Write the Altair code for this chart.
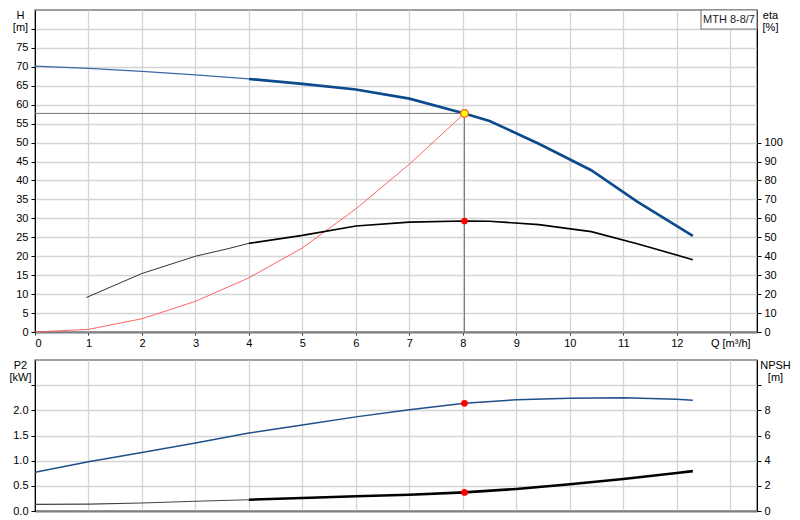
import altair as alt
import pandas as pd

# ---------------- data ----------------
# Pump curve H [m]
h_q = [0, 1, 2, 3, 4, 5, 6, 7, 8.03, 8.5, 9.42, 10.4, 11.26, 12.3]
h_v = [70.2, 69.6, 68.8, 67.9, 66.8, 65.5, 64.0, 61.6, 57.7, 55.7, 49.7, 42.7, 34.4, 25.4]
# System curve (red)
sys_q = [0, 1, 2, 3, 4, 5, 6, 7, 8.03]
sys_v = [0, 0.7, 3.5, 8.1, 14.3, 22.2, 32.5, 44.3, 57.7]
# Efficiency eta [%]
eta_q = [0.96, 2, 3, 3.61, 4, 5, 6, 7, 8.03, 8.5, 9.42, 10.4, 11.26, 12.3]
eta_v = [18.2, 30.9, 40.0, 44.0, 46.8, 51.0, 56.0, 58.0, 58.6, 58.5, 56.7, 53.0, 46.6, 38.2]
# Power P2 [kW]
p2_q = [0, 1, 2, 3, 4, 5, 6, 7, 8.03, 9, 10, 11, 12, 12.3]
p2_v = [0.77, 0.98, 1.16, 1.35, 1.55, 1.71, 1.87, 2.01, 2.14, 2.21, 2.24, 2.25, 2.22, 2.20]
# NPSH [m]
npsh_q = [0, 1, 2, 3, 4, 5, 6, 7, 8.03, 9, 10, 11, 12, 12.3]
npsh_v = [0.53, 0.55, 0.63, 0.77, 0.90, 1.03, 1.17, 1.29, 1.48, 1.75, 2.12, 2.54, 3.02, 3.17]
# Duty point
duty_q = 8.03
duty_h = 57.7
duty_eta = 58.6
duty_p2 = 2.14
duty_npsh = 1.48
split_q = 4  # where curves change from thin to thick

x_ticks = list(range(14))
h_ticks = list(range(0, 85, 5))
eta_ticks = list(range(0, 110, 10))
p2_ticks = [0, 0.5, 1.0, 1.5, 2.0, 2.5]
npsh_ticks = [0, 2, 4, 6, 8, 10]

model_label = "MTH 8-8/7"

# ---------------- layout ----------------
FONT = "Liberation Sans"
W, H1, H2 = 722, 322, 151
BLUE = "#0b4a8c"
GRID = "#d4d4d4"


def df(q, v):
    return pd.DataFrame({"Q": q, "v": v})


def seg(q, v, lo, hi):
    pts = [(a, b) for a, b in zip(q, v) if lo <= a <= hi]
    return df([p[0] for p in pts], [p[1] for p in pts])


xs = alt.Scale(domain=[0, 13.5], nice=False, zero=False)

ax_x_top = alt.Axis(values=x_ticks, title=None, grid=True,
                    labelExpr="datum.value == 13 ? 'Q [m³/h]' : datum.label",
                    tickSize=3, labelPadding=2, domainColor="#808080",
                    domainWidth=2, tickColor="#333")
ax_x_bot = alt.Axis(values=x_ticks, title=None, grid=True, labels=False,
                    ticks=False, domainColor="#808080", domainWidth=2)


def xt(f="Q"):
    return alt.X(f, type="quantitative", scale=xs, axis=ax_x_top)


def xb(f="Q"):
    return alt.X(f, type="quantitative", scale=xs, axis=ax_x_bot)


ax_h = alt.Axis(values=h_ticks, grid=True, title=["H", "[m]"],
                labelExpr="datum.value > 75 ? '' : datum.label",
                titleAngle=0, titleAlign="center", titleBaseline="top",
                titleX=-15, titleY=-1, titleLineHeight=12,
                tickSize=4, labelPadding=3, domainColor="#000", orient="left")
ax_eta = alt.Axis(values=eta_ticks, grid=False, title=["eta", "[%]"],
                  titleAngle=0, titleAlign="center", titleBaseline="top",
                  titleX=13, titleY=-1, titleLineHeight=12,
                  tickSize=4, labelPadding=3, domainColor="#000", orient="right")
ax_p2 = alt.Axis(values=p2_ticks, grid=True, title=["P2", "[kW]"], format=".1f",
                 labelExpr="datum.value > 2.01 ? '' : datum.label",
                 titleAngle=0, titleAlign="center", titleBaseline="top",
                 titleX=-15, titleY=-1, titleLineHeight=12,
                 tickSize=4, labelPadding=3, domainColor="#000", orient="left")
ax_npsh = alt.Axis(values=npsh_ticks, grid=False, title=["NPSH", "[m]"],
                   labelExpr="datum.value > 8 ? '' : datum.label",
                   titleAngle=0, titleAlign="center", titleBaseline="top",
                   titleX=18, titleY=-1, titleLineHeight=12,
                   tickSize=4, labelPadding=3, domainColor="#000", orient="right")

s_h = alt.Scale(domain=[0, 85], nice=False)
s_eta = alt.Scale(domain=[0, 170], nice=False)
s_p2 = alt.Scale(domain=[0, 3], nice=False)
s_npsh = alt.Scale(domain=[0, 12], nice=False)


def yh(f="v"):
    return alt.Y(f, type="quantitative", scale=s_h, axis=ax_h)


def ye(f="v"):
    return alt.Y(f, type="quantitative", scale=s_eta, axis=ax_eta)


def yp(f="v"):
    return alt.Y(f, type="quantitative", scale=s_p2, axis=ax_p2)


def yn(f="v"):
    return alt.Y(f, type="quantitative", scale=s_npsh, axis=ax_npsh)


duty = pd.DataFrame({"Q": [duty_q], "Q0": [0], "H": [duty_h], "H0": [0],
                     "eta": [duty_eta], "P2": [duty_p2], "NPSH": [duty_npsh]})

# ---------------- top panel ----------------
h_thin = alt.Chart(seg(h_q, h_v, 0, split_q)).mark_line(
    color="#3a6aa5", strokeWidth=1.2).encode(x=xt(), y=yh())
h_thick = alt.Chart(seg(h_q, h_v, split_q, 99)).mark_line(
    color=BLUE, strokeWidth=2.6).encode(x=xt(), y=yh())
sys_line = alt.Chart(df(sys_q, sys_v)).mark_line(
    color="#ff5555", strokeWidth=1, opacity=0.9).encode(x=xt(), y=yh())
hrule = alt.Chart(duty).mark_rule(color="#777", strokeWidth=1).encode(
    x=xt("Q0"), x2="Q", y=yh("H"))
vrule = alt.Chart(duty).mark_rule(color="#777", strokeWidth=1).encode(
    x=xt("Q"), y=yh("H0"), y2="H")
duty_pt = alt.Chart(duty).mark_point(
    shape="circle", filled=True, fill="#ffff00", stroke="#ff5030",
    strokeWidth=1.2, size=60, opacity=1).encode(x=xt("Q"), y=yh("H"))
box = alt.Chart(duty).mark_rect(fill="white", stroke="#808080",
                                strokeWidth=1.2).encode(
    x=alt.value(W - 56), x2=alt.value(W), y=alt.value(0), y2=alt.value(19))
box_txt = alt.Chart(duty).mark_text(
    text=model_label, font=FONT, fontSize=11, color="#222",
    align="center", baseline="middle").encode(
    x=alt.value(W - 28), y=alt.value(10))

left_top = alt.layer(h_thin, h_thick, sys_line, hrule, vrule, duty_pt)

eta_thin = alt.Chart(seg(eta_q, eta_v, 0, split_q)).mark_line(
    color="#333", strokeWidth=1).encode(x=xt(), y=ye())
eta_thick = alt.Chart(seg(eta_q, eta_v, split_q, 99)).mark_line(
    color="#000", strokeWidth=1.6).encode(x=xt(), y=ye())
eta_pt = alt.Chart(duty).mark_point(
    shape="circle", filled=True, color="#ff0000", size=45, opacity=1).encode(
    x=xt("Q"), y=ye("eta"))
right_top = alt.layer(eta_thin, eta_thick, eta_pt)

top = alt.layer(left_top, right_top, box, box_txt).resolve_scale(
    y="independent").properties(width=W, height=H1)

# ---------------- bottom panel ----------------
p2_line = alt.Chart(df(p2_q, p2_v)).mark_line(
    color="#1f4f8c", strokeWidth=1.5).encode(x=xb(), y=yp())
p2_pt = alt.Chart(duty).mark_point(
    shape="circle", filled=True, color="#ff0000", size=45, opacity=1).encode(
    x=xb("Q"), y=yp("P2"))
left_bot = alt.layer(p2_line, p2_pt)

n_thin = alt.Chart(seg(npsh_q, npsh_v, 0, split_q)).mark_line(
    color="#444", strokeWidth=1.1).encode(x=xb(), y=yn())
n_thick = alt.Chart(seg(npsh_q, npsh_v, split_q, 99)).mark_line(
    color="#000", strokeWidth=2.6).encode(x=xb(), y=yn())
n_pt = alt.Chart(duty).mark_point(
    shape="circle", filled=True, color="#ff0000", size=45, opacity=1).encode(
    x=xb("Q"), y=yn("NPSH"))
right_bot = alt.layer(n_thin, n_thick, n_pt)

bottom = alt.layer(left_bot, right_bot).resolve_scale(
    y="independent").properties(width=W, height=H2)

chart = alt.vconcat(top, bottom, spacing=9).configure(
    font=FONT, padding=0, background="white"
).configure_view(
    stroke="#808080", strokeWidth=1.5
).configure_axis(
    labelFont=FONT, labelFontSize=11, labelColor="#000",
    titleFont=FONT, titleFontSize=11, titleFontWeight="normal", titleColor="#000",
    gridColor=GRID, gridWidth=1.3, tickColor="#000", domainWidth=1
)

chart.save("out.html", embed_options={"renderer": "svg", "actions": False})
